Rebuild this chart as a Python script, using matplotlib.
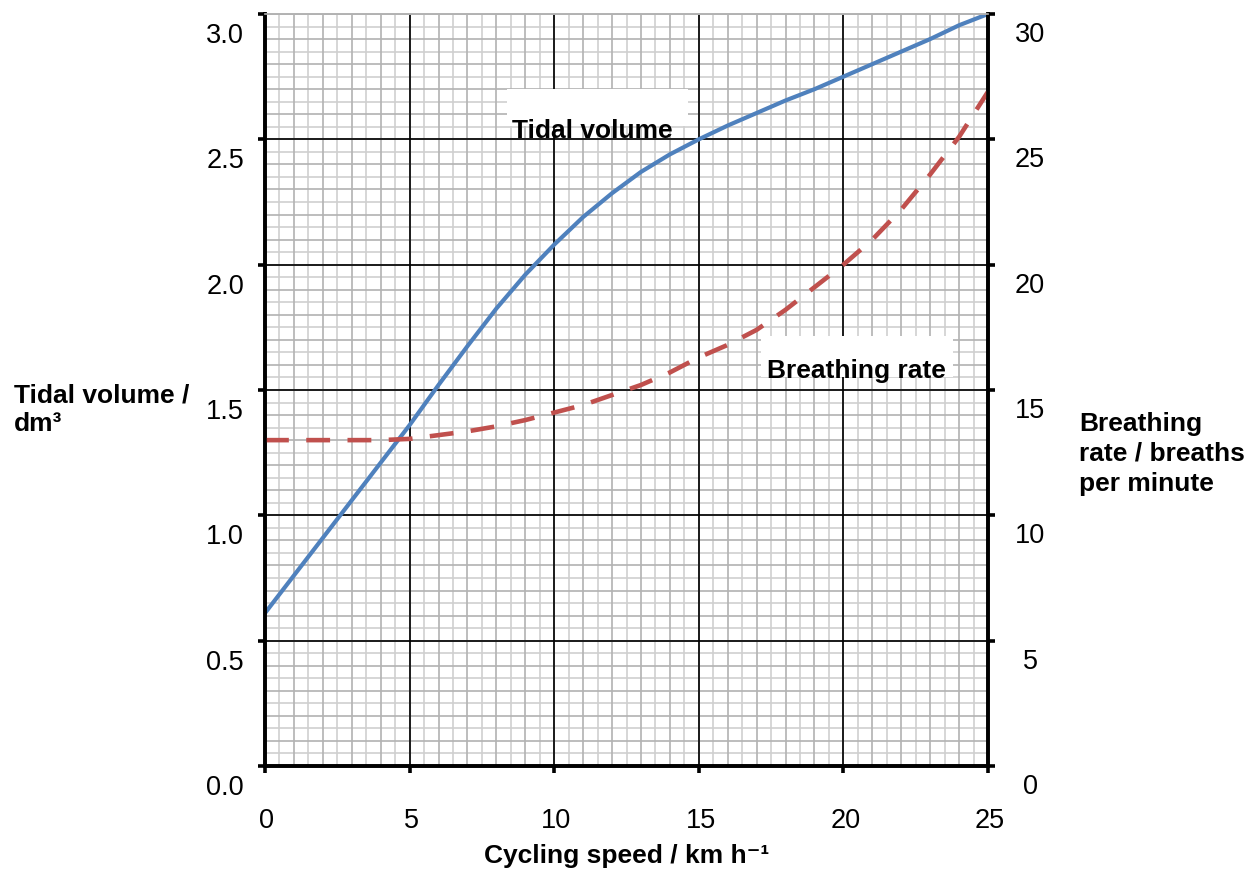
import numpy as np
import matplotlib.pyplot as plt
from matplotlib.patches import Rectangle

plt.rcParams['font.family'] = ['Liberation Sans', 'DejaVu Sans']

# cycling speed / km h-1
speed = [0, 1, 2, 3, 4, 5, 6, 7, 8, 9, 10, 11, 12, 13, 14, 15, 16, 17, 18, 19, 20, 21, 22, 23, 24, 25]
# tidal volume / dm3 (left axis)
tidal = [0.61, 0.76, 0.91, 1.06, 1.21, 1.36, 1.52, 1.675, 1.825, 1.96, 2.08, 2.19, 2.285, 2.37, 2.44,
         2.50, 2.555, 2.605, 2.655, 2.70, 2.75, 2.80, 2.85, 2.90, 2.955, 3.00]
# breathing rate / breaths per minute (right axis)
rate = [13.0, 13.0, 13.0, 13.0, 13.0, 13.05, 13.2, 13.35, 13.55, 13.8, 14.1, 14.4, 14.8, 15.2, 15.7,
        16.3, 16.8, 17.4, 18.2, 19.1, 20.0, 21.0, 22.2, 23.6, 25.1, 26.9]

x_ticks = [0, 5, 10, 15, 20, 25]
left_ticks = [0.0, 0.5, 1.0, 1.5, 2.0, 2.5, 3.0]
left_labels = ['0.0', '0.5', '1.0', '1.5', '2.0', '2.5', '3.0']
right_ticks = [0, 5, 10, 15, 20, 25, 30]

fig = plt.figure(figsize=(12.47, 8.70), dpi=100)
ax = fig.add_axes([265 / 1247, 1 - 767 / 870, (988 - 265) / 1247, (767 - 15) / 870])
ax.set_xlim(0, 25)
ax.set_ylim(0, 3)

# graph paper
ax.vlines(np.arange(0.5, 25, 1.0), 0, 3, color='#cfcfcf', lw=1.2, zorder=0.3)
ax.hlines(np.arange(0.05, 3, 0.1), 0, 25, color='#cfcfcf', lw=1.2, zorder=0.3)
ax.vlines(np.arange(1, 25, 1.0), 0, 3, color='#b2b2b2', lw=1.2, zorder=0.4)
ax.hlines(np.arange(0.1, 3.01, 0.1), 0, 25, color='#b2b2b2', lw=1.2, zorder=0.4)
ax.vlines([5, 10, 15, 20], 0, 3, color='black', lw=1.2, zorder=0.5)
ax.hlines([0.5, 1.0, 1.5, 2.0, 2.5], 0, 25, color='black', lw=1.2, zorder=0.5)

ax.plot(speed, tidal, color='#4f81bd', lw=3.0, zorder=2, solid_joinstyle='round')

ax2 = ax.twinx()
ax2.set_ylim(0, 30)
ax2.plot(speed, rate, color='#c0504d', lw=3.3, dashes=(5.2, 3.8), zorder=2)

for a in (ax, ax2):
    for side in ('left', 'right', 'bottom'):
        a.spines[side].set_linewidth(2.6)
        a.spines[side].set_color('black')
    a.spines['top'].set_color('#b2b2b2')
    a.spines['top'].set_linewidth(1.2)

ax.set_xticks(x_ticks)
ax.set_yticks(left_ticks)
ax2.set_yticks(right_ticks)
ax.tick_params(length=5, width=2.6, direction='out', labelleft=False, labelbottom=False)
ax2.tick_params(length=5, width=2.6, direction='out', labelright=False)

for v, s in zip(left_ticks, left_labels):
    ax.annotate(s, xy=(0, v), xycoords=('axes fraction', 'data'), xytext=(-40, -21),
                textcoords='offset pixels', ha='center', va='center', fontsize=19.5)
for v in right_ticks:
    ax2.annotate(str(v), xy=(1, v), xycoords=('axes fraction', 'data'), xytext=(42, -20),
                 textcoords='offset pixels', ha='center', va='center', fontsize=19.5)
for v in x_ticks:
    ax.annotate(str(v), xy=(v, 0), xycoords=('data', 'axes fraction'), xytext=(2, -54),
                textcoords='offset pixels', ha='center', va='center', fontsize=19.5)

# curve labels in white boxes
ax.add_patch(Rectangle((8.37, 2.553), 6.26, 0.147, facecolor='white', edgecolor='none', zorder=1))
ax.text(8.55, 2.509, 'Tidal volume', fontsize=19, fontweight='bold', va='baseline', zorder=1.5)
ax.add_patch(Rectangle((17.15, 1.552), 6.65, 0.163, facecolor='white', edgecolor='none', zorder=1))
ax.text(17.35, 1.552, 'Breathing rate', fontsize=19, fontweight='bold', va='baseline', zorder=1.5)

fig.text(14 / 1247, 1 - 410 / 870, 'Tidal volume /\ndm³', ha='left', va='center',
         fontsize=19, fontweight='bold', linespacing=1.25)
fig.text(1079 / 1247, 1 - 454 / 870, 'Breathing\nrate / breaths\nper minute', ha='left', va='center',
         fontsize=19, fontweight='bold', linespacing=1.3)
fig.text(626.5 / 1247, 1 - 856 / 870, 'Cycling speed / km h⁻¹', ha='center', va='center',
         fontsize=19, fontweight='bold')

fig.savefig('out.png', dpi=100)
